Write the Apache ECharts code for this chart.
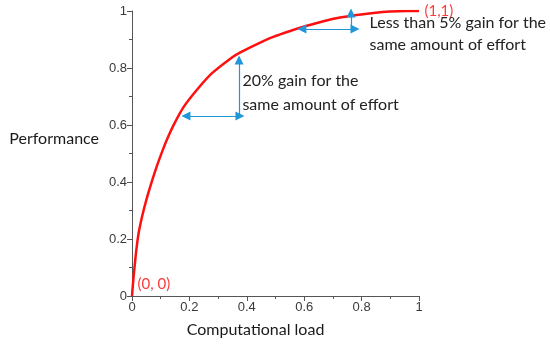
<!DOCTYPE html>
<html>
<head>
<meta charset="utf-8">
<script src="https://cdn.jsdelivr.net/npm/echarts@6/dist/echarts.min.js"></script>
<style>html,body{margin:0;padding:0;background:#fff;}#c{width:550px;height:347px;}</style>
</head>
<body>
<div id="c"></div>
<script>
var curveX = [0, 0.004, 0.009, 0.015, 0.023, 0.035, 0.050, 0.067, 0.086, 0.107, 0.120, 0.144, 0.179, 0.225, 0.278, 0.347, 0.376, 0.434, 0.492, 0.551, 0.609, 0.667, 0.725, 0.783, 0.841, 0.899, 0.957, 1];
var curveY = [0, 0.050, 0.103, 0.161, 0.220, 0.278, 0.337, 0.395, 0.454, 0.512, 0.545, 0.598, 0.662, 0.722, 0.781, 0.836, 0.854, 0.883, 0.909, 0.930, 0.948, 0.964, 0.977, 0.986, 0.993, 0.998, 1.0, 1];
var xTicks = [0, 0.2, 0.4, 0.6, 0.8, 1];
var yTicks = [0, 0.2, 0.4, 0.6, 0.8, 1];
var arrow1H = [[0.188, 0.632], [0.376, 0.632]];
var arrow1V = [[0.373, 0.632], [0.373, 0.828]];
var arrow2H = [[0.592, 0.937], [0.777, 0.937]];
var arrow2V = [[0.763, 0.937], [0.763, 0.993]];
var note1 = "20% gain for the\nsame amount of effort";
var note2 = "Less than 5% gain for the\nsame amount of effort";
var note1Pos = [0.39, 0.712];
var note2Pos = [0.833, 0.919];
var labelStart = "(0, 0)";
var labelEnd = "(1,1)";
var xName = "Computational load";
var yName = "Performance";

var curve = curveX.map(function (x, i) { return [x, curveY[i]]; });
var blue = '#1f97d8';
var chart = echarts.init(document.getElementById('c'), null, {renderer: 'canvas'});

var axisCommon = {
  type: 'value', min: 0, max: 1, interval: 0.2,
  splitLine: {show: false},
  axisLine: {show: true, lineStyle: {color: '#555', width: 1}},
  axisTick: {show: true, length: 5, lineStyle: {color: '#555'}},
  minorTick: {show: true, splitNumber: 2, length: 3, lineStyle: {color: '#555'}},
  axisLabel: {color: '#3a3a3a', fontFamily: 'Liberation Sans', fontSize: 13, margin: 5}
};

chart.setOption({
  animation: false,
  grid: {left: 132, right: 131, top: 11, bottom: 51},
  graphic: [{
    type: 'text', right: 451, top: 131,
    style: {text: yName, fill: '#1a1a1a', font: '16px Lato', textAlign: 'right'}
  }],
  xAxis: Object.assign({}, axisCommon, {
    name: xName, nameLocation: 'middle', nameGap: 26,
    nameTextStyle: {color: '#1a1a1a', fontFamily: 'Lato', fontSize: 16, padding: [0, 40, 0, 0]}
  }),
  yAxis: Object.assign({}, axisCommon, {}),
  series: [{
    type: 'line', data: curve, smooth: 0.3, showSymbol: false,
    lineStyle: {color: '#ff1010', width: 2.5},
    markLine: {
      silent: true, symbolSize: [9, 9],
      lineStyle: {color: blue, width: 1.2, type: 'solid'},
      label: {show: false},
      data: [
        [{coord: arrow1H[0], symbol: 'triangle', symbolRotate: 90}, {coord: arrow1H[1], symbol: 'triangle', symbolRotate: -90}],
        [{coord: arrow1V[0], symbol: 'none'}, {coord: arrow1V[1], symbol: 'triangle', symbolRotate: 0}],
        [{coord: arrow2H[0], symbol: 'triangle', symbolRotate: 90}, {coord: arrow2H[1], symbol: 'triangle', symbolRotate: -90}],
        [{coord: arrow2V[0], symbol: 'none'}, {coord: arrow2V[1], symbol: 'triangle', symbolRotate: 0}]
      ]
    },
    markPoint: {
      silent: true, symbol: 'circle', symbolSize: 1, itemStyle: {color: 'rgba(0,0,0,0)'},
      data: [
        {coord: [0, 0], label: {show: true, formatter: labelStart, position: 'right', offset: [0, -12], color: '#ff3b3b', fontFamily: 'Lato', fontSize: 15}},
        {coord: [1, 1], label: {show: true, formatter: labelEnd, position: 'right', offset: [0, 0], color: '#ff3b3b', fontFamily: 'Lato', fontSize: 15}},
        {coord: note1Pos, label: {show: true, formatter: note1, position: 'right', offset: [-7, 0], color: '#222', fontFamily: 'Lato', fontSize: 16, lineHeight: 24, align: 'left'}},
        {coord: note2Pos, label: {show: true, formatter: note2, position: 'right', offset: [-7, 0], color: '#222', fontFamily: 'Lato', fontSize: 16, lineHeight: 22, align: 'left'}}
      ]
    }
  }]
});
</script>
</body>
</html>
